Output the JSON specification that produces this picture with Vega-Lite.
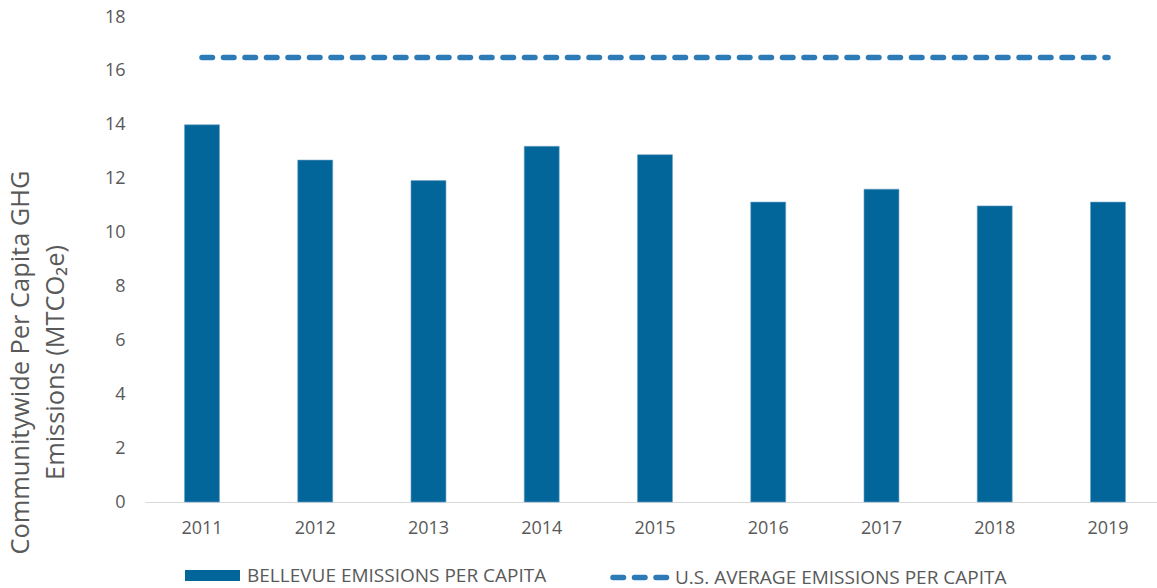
{
  "$schema": "https://vega.github.io/schema/vega-lite/v6.json",
  "width": 1012,
  "height": 485,
  "autosize": "none",
  "padding": {"left": 145, "top": 17, "right": 0, "bottom": 86},
  "background": "white",
  "config": {"view": {"stroke": null}, "font": "Open Sans"},
  "data": {
    "values": [
      {"year": "2011", "bellevue": 14.0, "us": 16.5},
      {"year": "2012", "bellevue": 12.69, "us": 16.5},
      {"year": "2013", "bellevue": 11.93, "us": 16.5},
      {"year": "2014", "bellevue": 13.2, "us": 16.5},
      {"year": "2015", "bellevue": 12.89, "us": 16.5},
      {"year": "2016", "bellevue": 11.13, "us": 16.5},
      {"year": "2017", "bellevue": 11.61, "us": 16.5},
      {"year": "2018", "bellevue": 10.99, "us": 16.5},
      {"year": "2019", "bellevue": 11.13, "us": 16.5}
    ]
  },
  "resolve": {"scale": {"color": "independent"}, "legend": {"color": "independent"}},
  "layer": [
    {
      "mark": {"type": "bar", "stroke": "#6FA3C4", "strokeWidth": 0.6},
      "encoding": {
        "x": {
          "field": "year",
          "type": "ordinal",
          "scale": {"paddingInner": 0.691, "paddingOuter": 0.3135, "align": 0.556},
          "axis": {
            "title": null,
            "labelAngle": 0,
            "labelFontSize": 18,
            "labelColor": "#595959",
            "labelFont": "Open Sans",
            "labelPadding": 17,
            "ticks": false,
            "domainColor": "#D9D9D9",
            "domainWidth": 1.2,
            "grid": false
          }
        },
        "y": {
          "field": "bellevue",
          "type": "quantitative",
          "scale": {"domain": [0, 18], "nice": false},
          "axis": {
            "values": [0, 2, 4, 6, 8, 10, 12, 14, 16, 18],
            "domain": false,
            "ticks": false,
            "grid": false,
            "labelFontSize": 18,
            "labelColor": "#595959",
            "labelFont": "Open Sans",
            "labelPadding": 20,
            "title": ["Communitywide Per Capita GHG", "Emissions (MTCO₂e)"],
            "titleFont": "Open Sans",
            "titleFontSize": 25.4,
            "titleFontWeight": "normal",
            "titleColor": "#595959",
            "titleAngle": -90,
            "titleX": -137,
            "titleY": 345,
            "titleAlign": "center",
            "titleBaseline": "top",
            "titleLineHeight": 35
          }
        },
        "color": {
          "datum": "BELLEVUE EMISSIONS PER CAPITA",
          "type": "nominal",
          "scale": {"range": ["#03669A"]},
          "legend": {
            "title": null,
            "orient": "none",
            "direction": "horizontal",
            "legendX": 40,
            "legendY": 531,
            "labelFont": "Open Sans",
            "labelFontSize": 19,
            "labelColor": "#595959",
            "labelLimit": 500,
            "symbolType": "M-1,-0.2H1V0.2H-1Z",
            "symbolSize": 3025,
            "symbolStrokeWidth": 0,
            "labelOffset": 7
          }
        }
      }
    },
    {
      "mark": {"type": "line", "strokeWidth": 5.5, "strokeDash": [10.5, 11], "strokeCap": "round"},
      "encoding": {
        "x": {"field": "year", "type": "ordinal"},
        "y": {"field": "us", "type": "quantitative"},
        "color": {
          "datum": "U.S. AVERAGE EMISSIONS PER CAPITA",
          "type": "nominal",
          "scale": {"range": ["#2C7BB6"]},
          "legend": {
            "title": null,
            "orient": "none",
            "direction": "horizontal",
            "legendX": 465,
            "legendY": 530,
            "labelFont": "Open Sans",
            "labelFontSize": 19,
            "labelColor": "#595959",
            "labelLimit": 500,
            "symbolType": "stroke",
            "symbolSize": 3025,
            "symbolStrokeWidth": 5.5,
            "symbolDash": [10.5, 11],
            "labelOffset": 4,
            "encode": {"symbols": {"update": {"strokeCap": {"value": "round"}}}}
          }
        }
      }
    }
  ]
}
